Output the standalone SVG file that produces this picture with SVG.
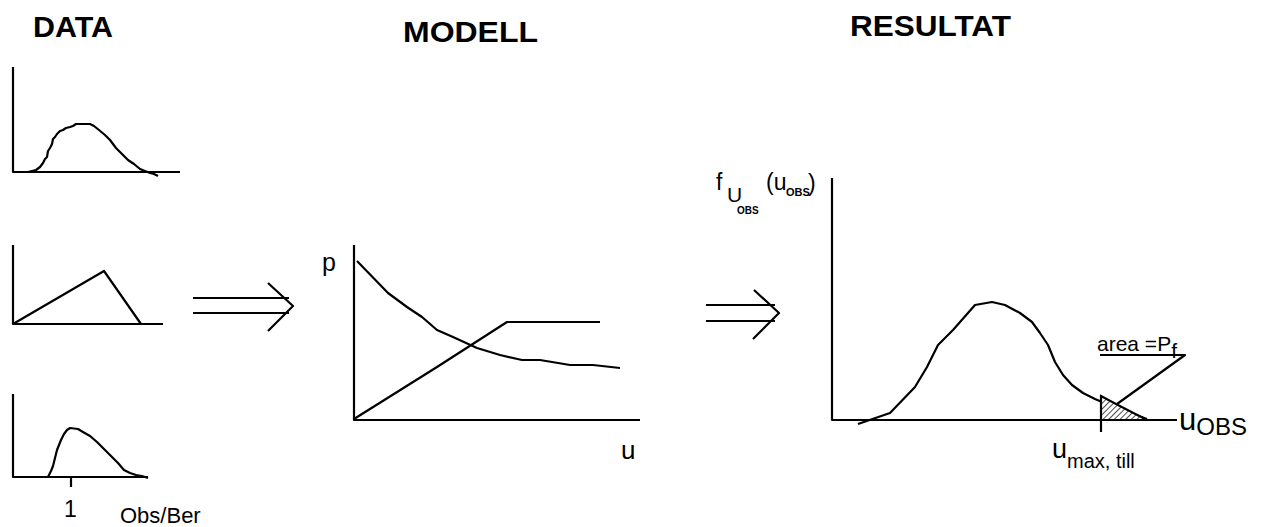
<svg xmlns="http://www.w3.org/2000/svg" width="1268" height="527" viewBox="0 0 1268 527">
<style>
.ln{fill:none;stroke:#000;stroke-width:2.2;stroke-linejoin:round;stroke-linecap:butt}
.t{font-family:"Liberation Sans",Arial,sans-serif;fill:#000}
.h{font-weight:bold;font-size:29px}
</style>
<defs>
<pattern id="hatch" patternUnits="userSpaceOnUse" width="4" height="4" patternTransform="rotate(45)">
<rect width="4" height="4" fill="#fff"/>
<line x1="0" y1="0" x2="0" y2="4" stroke="#000" stroke-width="1.4"/>
</pattern>
</defs>
<rect width="1268" height="527" fill="#fff"/>
<g id="titles">
<text class="t h" x="33" y="37" textLength="80" lengthAdjust="spacingAndGlyphs">DATA</text>
<text class="t h" x="403" y="42" textLength="135" lengthAdjust="spacingAndGlyphs">MODELL</text>
<text class="t h" x="850" y="36" textLength="161" lengthAdjust="spacingAndGlyphs">RESULTAT</text>
</g>
<g id="data1">
<path class="ln" d="M13,67 V172 H180"/>
<path class="ln" d="M28,172 L36,170 L40,167 L43,163 L45,159 L47,157 L48,151 L50,148 L52,144 L53,139 L55,137 L57,134 L60,131 L63,130 L66,128 L70,127 L73,126 L76,124 L90,124 L94,126 L99,130 L105,135 L110,140 L116,148 L122,154 L128,160 L134,164 L140,169 L145,171 L150,173 L154,174 L158,176"/>
</g>
<g id="data2">
<path class="ln" d="M13,245 V324 H163"/>
<path class="ln" d="M13,324 L104,271 L141,324"/>
</g>
<g id="data3">
<path class="ln" d="M13,394 V477 H148"/>
<path class="ln" d="M48,477 L51,471 L53,466 L55,458 L57,450 L59,445 L61,440 L64,434 L67,430 L70,428 L78,429 L83,432 L90,436 L97,442 L104,449 L111,456 L118,463 L124,470 L130,473 L136,475 L142,476 L148,478"/>
<line class="ln" x1="71" y1="477" x2="71" y2="487"/>
<text class="t" x="64" y="517" font-size="23">1</text>
<text class="t" x="120" y="523" font-size="22">Obs/Ber</text>
</g>
<g id="connectors">
<path class="ln" d="M193,298 H289 M193,313 H289 M268,283 L293,306 L268,331"/>
<path class="ln" d="M706,305 H775 M706,321 H775 M754,290 L779,313 L753,339"/>
</g>
<g id="modell">
<path class="ln" d="M354,245 V420 H640"/>
<path class="ln" d="M357,261 L388,293 L407,307 L422,317 L437,330 L453,337 L477,348 L500,355 L522,360 L540,360 L570,365 L593,365 L620,368"/>
<path class="ln" d="M354,419 L437,367 L507,322 L600,322"/>
<text class="t" x="322" y="271" font-size="25">p</text>
<text class="t" x="621" y="459" font-size="26">u</text>
</g>
<g id="resultat">
<path class="ln" d="M832,178 V420 H1177"/>
<path class="ln" d="M858,424 L890,413 L915,387 L927,367 L938,345 L953,330 L975,305 L992,302 L1005,305 L1020,313 L1032,322 L1040,333 L1048,345 L1055,362 L1063,375 L1072,385 L1083,393 L1095,399 L1102,402 L1117,408 L1147,419"/>
<polygon points="1101,396 1101,420 1147,420 1116,404" fill="url(#hatch)" stroke="#000" stroke-width="2"/>
<line class="ln" x1="1101" y1="395" x2="1101" y2="432"/>
<path class="ln" d="M1117,404 L1185,355 H1100"/>
<text class="t" x="1097" y="351" font-size="21">area =P<tspan dy="7">f</tspan></text>
<text class="t" x="1179" y="430" font-size="31">u<tspan font-size="24" dy="5">OBS</tspan></text>
<text class="t" x="1052" y="458" font-size="27">u<tspan font-size="20" dy="10">max, till</tspan></text>
<text class="t" x="716" y="190" font-size="23">f</text>
<text class="t" x="727" y="202" font-size="21">U</text>
<text class="t" x="737" y="214" font-size="10" font-weight="bold">OBS</text>
<text class="t" x="766" y="190" font-size="23">(u</text>
<text class="t" x="786" y="196" font-size="11" font-weight="bold">OBS</text>
<text class="t" x="808" y="191" font-size="23">)</text>
</g>
</svg>
